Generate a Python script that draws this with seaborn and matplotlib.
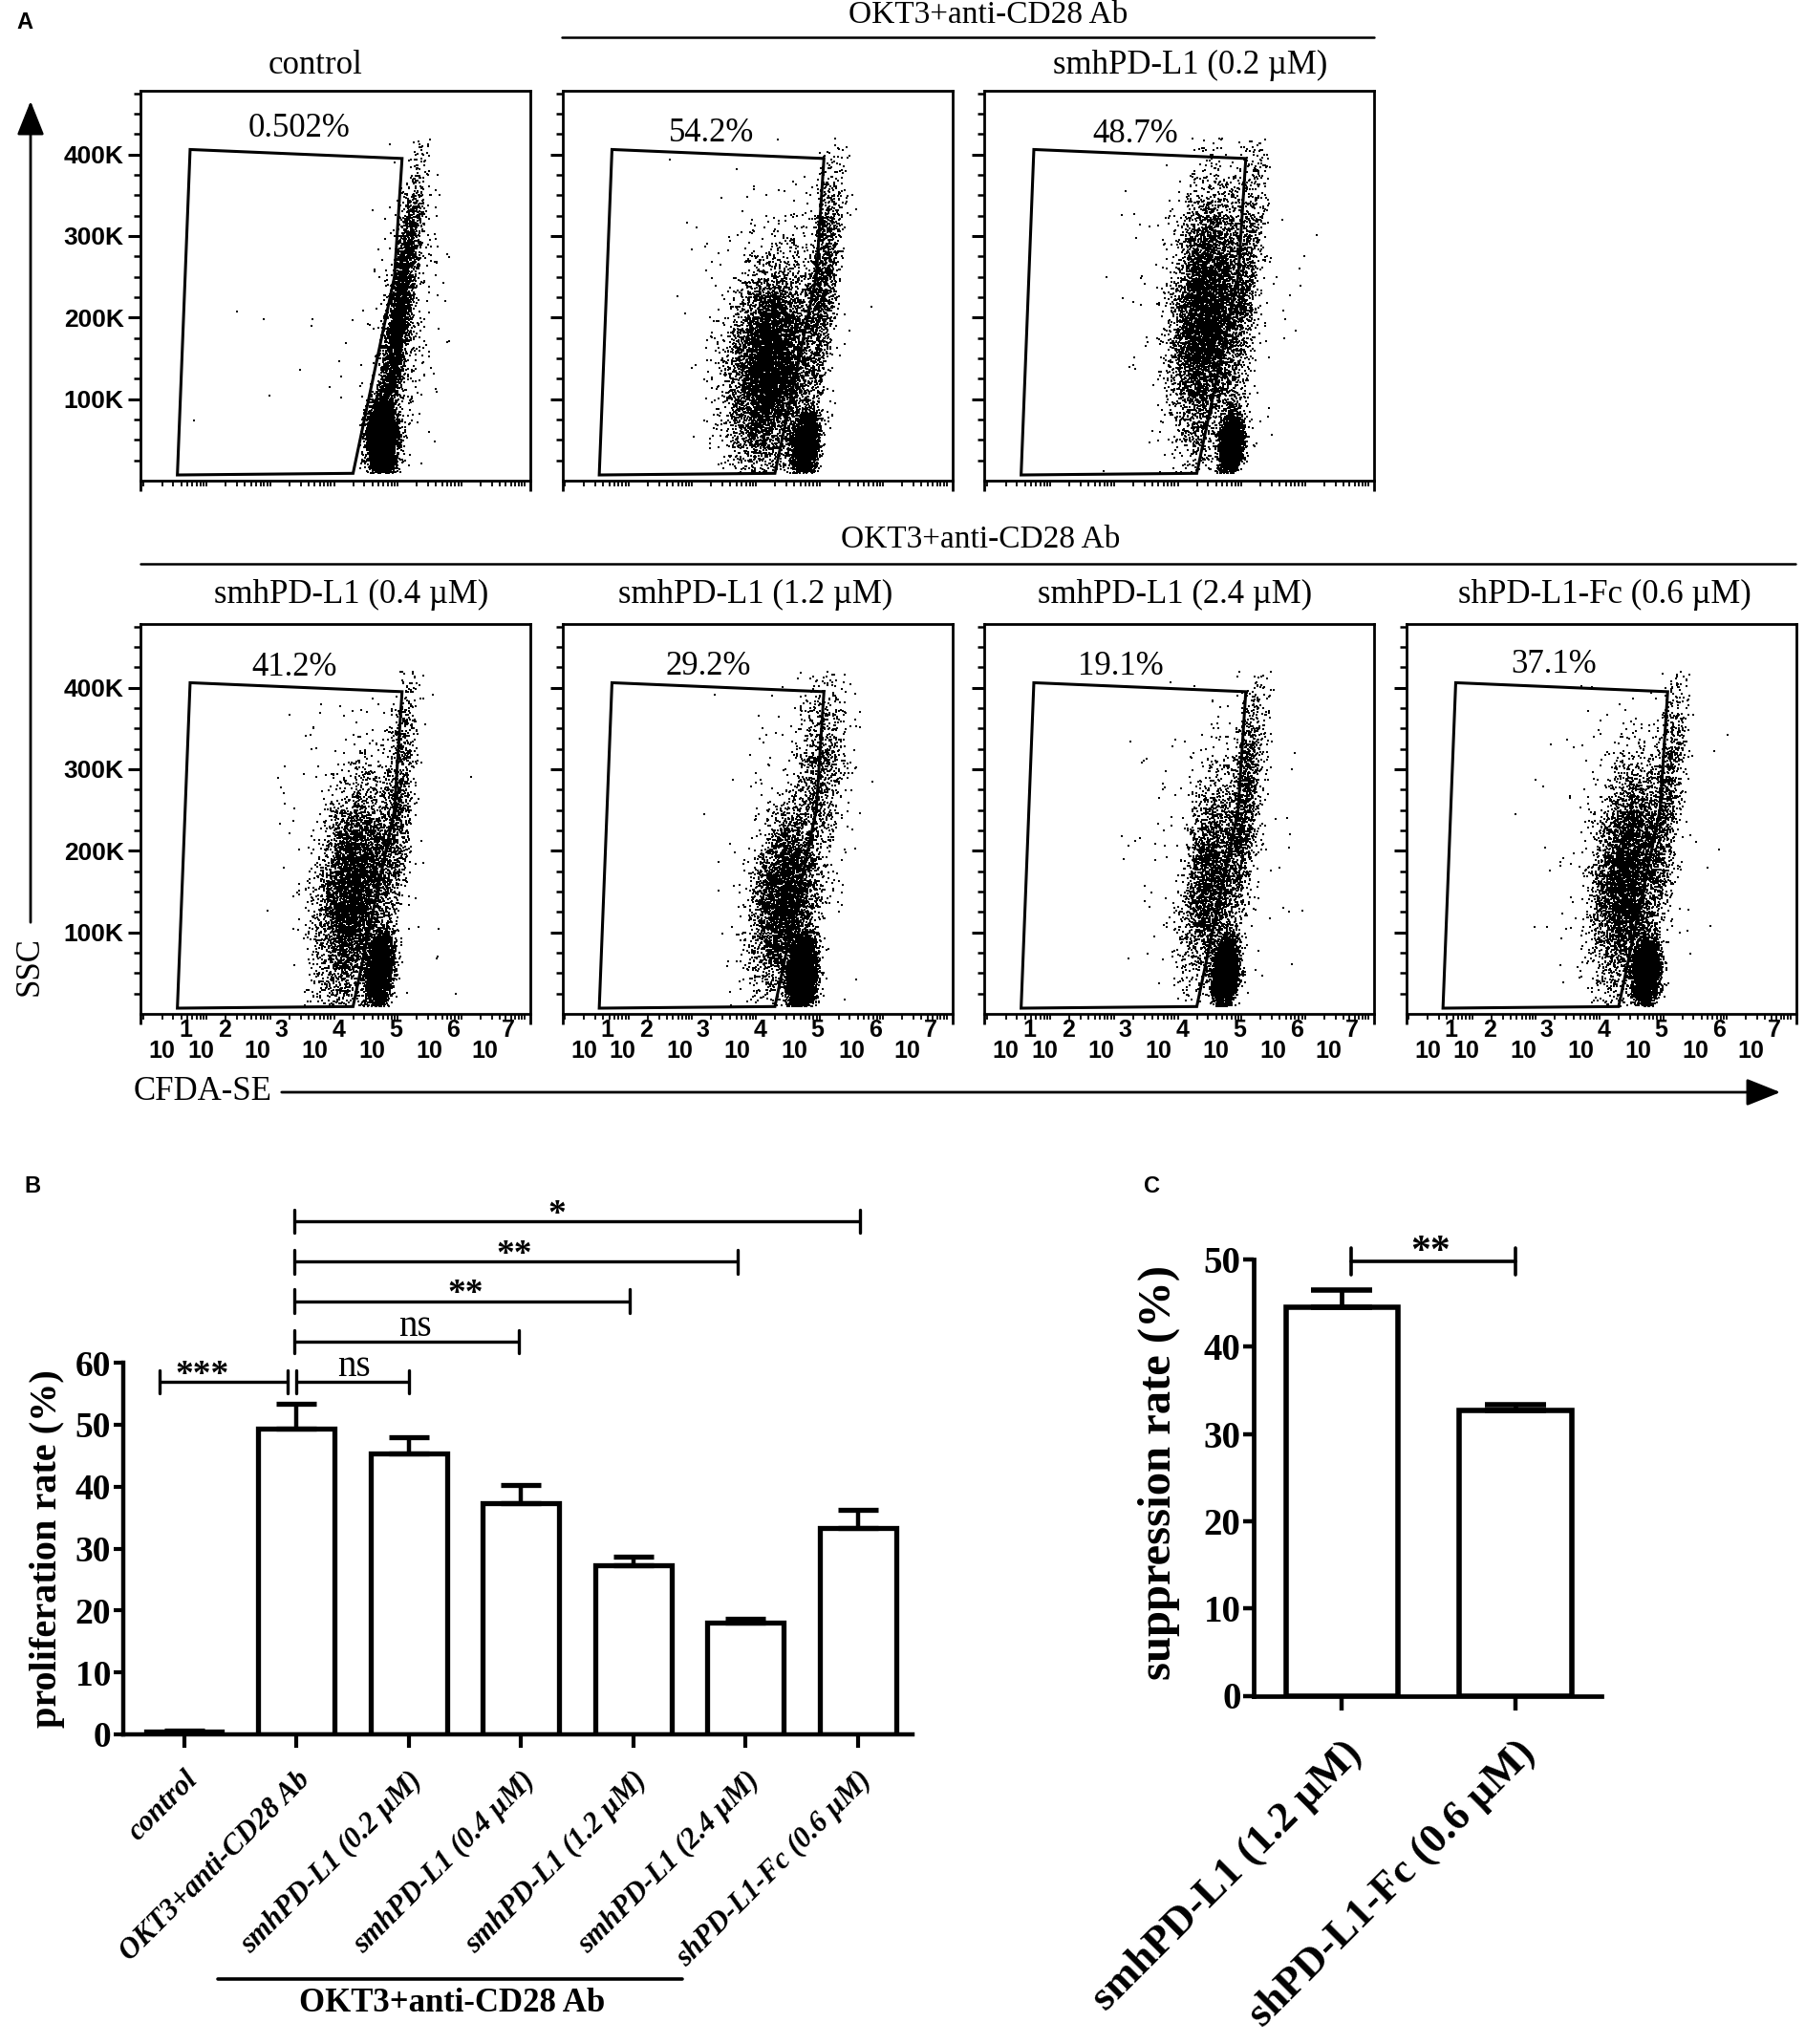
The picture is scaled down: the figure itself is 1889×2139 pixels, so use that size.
import numpy as np
import pandas as pd
import matplotlib
matplotlib.use("Agg")
import matplotlib.pyplot as plt
import seaborn as sns
from matplotlib.patches import Polygon, FancyArrowPatch
from matplotlib.lines import Line2D
from matplotlib.transforms import blended_transform_factory, ScaledTranslation

sns.set_theme(style="white")
SERIF = ["Liberation Serif", "DejaVu Serif"]
SANS = ["Liberation Sans", "DejaVu Sans"]
plt.rcParams["font.family"] = SERIF
for k in ["text.color", "axes.labelcolor", "xtick.color", "ytick.color", "axes.edgecolor"]:
    plt.rcParams[k] = "black"

# ---------------------------------------------------------------- data
flow_titles = ["control", "", "smhPD-L1 (0.2 µM)", "smhPD-L1 (0.4 µM)",
               "smhPD-L1 (1.2 µM)", "smhPD-L1 (2.4 µM)", "shPD-L1-Fc (0.6 µM)"]
flow_pcts = ["0.502%", "54.2%", "48.7%", "41.2%", "29.2%", "19.1%", "37.1%"]
header_text = "OKT3+anti-CD28 Ab"

# gate polygon (log10 CFDA-SE, SSC in K)
gate_log = [1.74, 5.07, 4.95, 4.30, 1.54]
gate_ssc = [406, 395, 250, 9, 7]

ssc_ticks = [100, 200, 300, 400]
ssc_ticklabels = ["100K", "200K", "300K", "400K"]
cfda_decades = [1, 2, 3, 4, 5, 6, 7]

# cell populations:
# panel, events, centre log10, centre SSC (K), spread log10, spread SSC (K), tilt (log10 per K)
pop_panel = [0, 0, 0, 0,   1, 1, 1, 1,   2, 2, 2, 2,   3, 3, 3, 3,   4, 4, 4, 4,   5, 5, 5, 5,   6, 6, 6, 6]
pop_n     = [5000, 3200, 500, 15,   2600, 6500, 1400, 250,   2400, 6200, 1100, 250,
             3200, 5000, 1100, 200,  4000, 3800, 900, 150,   4300, 2400, 1400, 200,
             3500, 4600, 1100, 200]
pop_log   = [4.76, 5.02, 5.10, 3.6,   4.78, 4.22, 5.05, 4.2,   4.85, 4.45, 5.05, 4.4,
             4.72, 4.30, 5.00, 4.3,   4.73, 4.45, 5.00, 4.5,   4.75, 4.50, 5.05, 4.5,
             4.73, 4.42, 5.05, 4.4]
pop_ssc   = [50, 200, 180, 120,   45, 140, 240, 200,   45, 200, 240, 220,
             52, 150, 250, 200,   48, 140, 300, 200,   50, 165, 250, 200,
             50, 170, 260, 200]
pop_slog  = [0.11, 0.09, 0.25, 0.7,   0.10, 0.30, 0.12, 0.6,   0.09, 0.25, 0.12, 0.6,
             0.10, 0.26, 0.12, 0.6,   0.11, 0.24, 0.20, 0.6,   0.09, 0.19, 0.12, 0.6,
             0.10, 0.24, 0.12, 0.6]
pop_sssc  = [24, 80, 100, 90,   20, 62, 75, 110,   20, 75, 85, 110,
             22, 65, 80, 110,   22, 55, 60, 110,   20, 60, 80, 110,
             20, 65, 80, 110]
pop_tilt  = [0.0, 0.0017, 0.001, 0.0,   0.001, 0.0012, 0.0012, 0.0,   0.001, 0.0008, 0.0012, 0.0,
             0.001, 0.0012, 0.0012, 0.0,   0.001, 0.0015, 0.001, 0.0,   0.001, 0.0012, 0.0012, 0.0,
             0.001, 0.0012, 0.0012, 0.0]

# panel B
prolif_labels = ["control", "OKT3+anti-CD28 Ab", "smhPD-L1 (0.2 µM)", "smhPD-L1 (0.4 µM)",
                 "smhPD-L1 (1.2 µM)", "smhPD-L1 (2.4 µM)", "shPD-L1-Fc (0.6 µM)"]
prolif_mean = [0.5, 49.3, 45.4, 37.4, 27.3, 18.0, 33.3]
prolif_err = [0.1, 4.1, 2.5, 2.9, 1.4, 0.6, 3.0]
sigB_x1 = [-0.22, 1.0, 0.98, 0.98, 0.98, 0.98]
sigB_x2 = [0.92, 2.0, 2.98, 3.97, 4.93, 6.02]
sigB_y = [56.9, 56.9, 63.4, 69.9, 76.3, 82.8]
sigB_text = ["***", "ns", "ns", "**", "**", "*"]
sigB_tx = [0.16, 1.51, 2.06, 2.51, 2.94, 3.32]

# panel C
supp_labels = ["smhPD-L1 (1.2 µM)", "shPD-L1-Fc (0.6 µM)"]
supp_mean = [44.5, 32.7]
supp_err = [1.95, 0.7]
sigC_x = [0.05, 1.0]
sigC_y = 49.8
sigC_text = "**"

# ---------------------------------------------------------------- figure
W, H = 1889, 2139
fig = plt.figure(figsize=(W / 100, H / 100), dpi=100)


def fx(x):
    return x / W


def fy(y):
    return 1 - y / H


rng = np.random.default_rng(11)

flow_left = [147, 588.5, 1030, 1471.5]
flow_top = [95, 653]
PW = 408
slots = [(0, 0), (0, 1), (0, 2), (1, 0), (1, 1), (1, 2), (1, 3)]
title_x = [330, None, 1246, 367.5, 791, 1230, 1679]
title_y = [68.5, 622.8]
pct_x = [0.406, 0.383, 0.389, 0.396, 0.374, 0.35, 0.38]
pct_y = [0.902, 0.891, 0.889, 0.888, 0.89, 0.89, 0.897]
cfda_label_pos = [1.30, 1.91, 2.80, 3.70, 4.60, 5.50, 6.37]
XL = (0.96, 7.085)
YL = (0, 478)

minor_x = []
for k in range(0, 8):
    for m in range(1, 10):
        v = k + np.log10(m)
        if XL[0] + 0.02 < v < XL[1] - 0.02:
            minor_x.append(v)

for p, (row, col) in enumerate(slots):
    left = flow_left[col]
    top = flow_top[row]
    ax = fig.add_axes([fx(left), fy(top + PW), PW / W, PW / H])
    xs, ys = [], []
    for i in range(len(pop_panel)):
        if pop_panel[i] != p:
            continue
        y = pop_ssc[i] + pop_sssc[i] * rng.standard_normal(pop_n[i])
        x = pop_log[i] + pop_tilt[i] * (y - pop_ssc[i]) + pop_slog[i] * rng.standard_normal(pop_n[i])
        keep = (y > 9) & (y < 420)
        xs.append(x[keep])
        ys.append(y[keep])
    df = pd.DataFrame({"CFDA": np.concatenate(xs), "SSC": np.concatenate(ys)})
    sns.scatterplot(data=df, x="CFDA", y="SSC", s=3.8, marker="s", color="black",
                    linewidth=0, ax=ax, legend=False, rasterized=True)
    ax.add_patch(Polygon(np.column_stack([gate_log, gate_ssc]), closed=True, fill=False,
                         ec="black", lw=2.2, zorder=5))
    ax.set_xlim(*XL)
    ax.set_ylim(*YL)
    ax.set_xlabel("")
    ax.set_ylabel("")
    for sp in ax.spines.values():
        sp.set_linewidth(2.0)
        sp.set_color("black")
    ax.set_yticks(ssc_ticks)
    ax.set_yticks(np.arange(25, 478, 25), minor=True)
    ax.set_xticks(list(XL))
    ax.set_xticks(minor_x, minor=True)
    ax.tick_params(axis="y", which="major", direction="out", length=9.5, width=2.2, left=True, pad=3)
    ax.tick_params(axis="y", which="minor", direction="out", length=5, width=1.8, left=True)
    ax.tick_params(axis="x", which="major", direction="out", length=8, width=2.0, bottom=True,
                   labelbottom=False)
    ax.tick_params(axis="x", which="minor", direction="out", length=4.5, width=1.3, bottom=True)
    if col == 0:
        ax.set_yticklabels(ssc_ticklabels, fontfamily=SANS, fontweight="bold", fontsize=19)
    else:
        ax.tick_params(axis="y", labelleft=False)
    ax.text(pct_x[p], pct_y[p], flow_pcts[p], transform=ax.transAxes, ha="center", va="center",
            fontsize=25, family=SERIF)
    if flow_titles[p]:
        fig.text(fx(title_x[p]), fy(title_y[row]), flow_titles[p], ha="center", va="center",
                 fontsize=25, family=SERIF)
    if row == 1:
        tr = blended_transform_factory(ax.transData, ax.transAxes)
        for e, bx in zip(cfda_decades, cfda_label_pos):
            ax.text(bx, -0.0956, "10", transform=tr, ha="center", va="center", family=SANS,
                    fontweight="bold", fontsize=18, clip_on=False)
            ax.text(bx + 0.37, -0.041, str(e), transform=tr, ha="center", va="center", family=SANS,
                    fontweight="bold", fontsize=18, clip_on=False)

# headers and their lines
fig.text(fx(1034), fy(15.6), header_text, ha="center", va="center", fontsize=24, family=SERIF)
fig.add_artist(Line2D([fx(588), fx(1438)], [fy(39), fy(39)], lw=1.8, color="black"))
fig.text(fx(1026), fy(564.7), header_text, ha="center", va="center", fontsize=24, family=SERIF)
fig.add_artist(Line2D([fx(147), fx(1879)], [fy(590), fy(590)], lw=1.8, color="black"))

# axis arrows
fig.add_artist(FancyArrowPatch((fx(32), fy(968)), (fx(32), fy(103)), transform=fig.transFigure,
                               arrowstyle="-|>,head_length=0.55,head_width=0.22", mutation_scale=40,
                               lw=2.0, color="black"))
fig.text(fx(31), fy(1011), "SSC", rotation=90, ha="center", va="center", fontsize=25, family=SERIF)
fig.text(fx(140), fy(1142.5), "CFDA-SE", ha="left", va="center", fontsize=25, family=SERIF)
fig.add_artist(FancyArrowPatch((fx(292), fy(1143)), (fx(1866), fy(1143)), transform=fig.transFigure,
                               arrowstyle="-|>,head_length=0.55,head_width=0.22", mutation_scale=40,
                               lw=2.0, color="black"))

# panel letters
fig.text(fx(26), fy(24), "A", ha="center", va="center", fontsize=17, fontweight="bold", family=SANS)
fig.text(fx(34), fy(1241), "B", ha="center", va="center", fontsize=17, fontweight="bold", family=SANS)
fig.text(fx(1205), fy(1242), "C", ha="center", va="center", fontsize=17, fontweight="bold", family=SANS)

# ---------------------------------------------------------------- panel B
axB = fig.add_axes([fx(128.5), fy(1815), (954.7 - 128.5) / W, (1815 - 1426) / H])
dfB = pd.DataFrame({"group": prolif_labels, "rate": prolif_mean})
sns.barplot(data=dfB, x="group", y="rate", order=prolif_labels, color="white", saturation=1,
            edgecolor="black", linewidth=3.8, width=0.678, errorbar=None, ax=axB)
axB.errorbar(np.arange(len(prolif_mean)), prolif_mean,
             yerr=[np.zeros(len(prolif_err)), prolif_err], fmt="none", ecolor="black",
             elinewidth=3.2, capsize=15, capthick=3.8, zorder=4)
axB.set_xlim(-0.546, 6.485)
axB.set_ylim(0, 60)
axB.set_yticks(np.arange(0, 61, 10))
axB.set_yticklabels([str(v) for v in range(0, 61, 10)], fontsize=27, fontweight="bold", family=SERIF)
axB.set_xticks(np.arange(len(prolif_labels)))
axB.set_xticklabels(prolif_labels, rotation=45, ha="right", va="top", rotation_mode="anchor",
                    fontsize=22, fontweight="bold", style="italic", family=SERIF)
for lab in axB.get_xticklabels():
    lab.set_transform(lab.get_transform() + ScaledTranslation(8 / 72, 0, fig.dpi_scale_trans))
sns.despine(ax=axB)
for s in ["left", "bottom"]:
    axB.spines[s].set_linewidth(3.2)
axB.tick_params(axis="y", direction="out", length=7, width=3.0, left=True, pad=2)
axB.tick_params(axis="x", direction="out", length=10, width=3.0, bottom=True, pad=14)
axB.set_xlabel("")
axB.set_ylabel("proliferation rate (%)", fontsize=29, fontweight="bold", family=SERIF)
axB.yaxis.set_label_coords(-0.073, 0.5)
for x1, x2, y, t, tx in zip(sigB_x1, sigB_x2, sigB_y, sigB_text, sigB_tx):
    axB.plot([x1, x2], [y, y], color="black", lw=2.4, clip_on=False, solid_capstyle="butt")
    for xe in (x1, x2):
        axB.plot([xe, xe], [y - 1.9, y + 1.9], color="black", lw=2.4, clip_on=False)
    if t == "ns":
        axB.text(tx, y + 0.9, t, ha="center", va="baseline", fontsize=28, family=SERIF, clip_on=False)
    else:
        axB.text(tx, y - 0.4, t, ha="center", va="baseline", fontsize=27, fontweight="bold",
                 family=SERIF, clip_on=False)

# group line under B labels
fig.add_artist(Line2D([fx(227.8), fx(713.5)], [fy(2070.6), fy(2070.6)], lw=2.6, color="black"))
fig.text(fx(473), fy(2096.7), header_text, ha="center", va="center", fontsize=25,
         fontweight="bold", family=SERIF)

# ---------------------------------------------------------------- panel C
axC = fig.add_axes([fx(1312.4), fy(1774.5), (1675.5 - 1312.4) / W, (1774.5 - 1318) / H])
dfC = pd.DataFrame({"group": supp_labels, "rate": supp_mean})
sns.barplot(data=dfC, x="group", y="rate", order=supp_labels, color="white", saturation=1,
            edgecolor="black", linewidth=4.0, width=0.649, errorbar=None, ax=axC)
axC.errorbar(np.arange(len(supp_mean)), supp_mean, yerr=[np.zeros(len(supp_err)), supp_err],
             fmt="none", ecolor="black", elinewidth=3.4, capsize=23, capthick=4.0, zorder=4)
axC.set_xlim(-0.507, 1.493)
axC.set_ylim(0, 50)
axC.set_yticks(np.arange(0, 51, 10))
axC.set_yticklabels([str(v) for v in range(0, 51, 10)], fontsize=28, fontweight="bold", family=SERIF)
axC.set_xticks(np.arange(len(supp_labels)))
axC.set_xticklabels(supp_labels, rotation=45, ha="right", va="top", rotation_mode="anchor",
                    fontsize=32, fontweight="bold", family=SERIF)
for lab in axC.get_xticklabels():
    lab.set_transform(lab.get_transform() + ScaledTranslation(8 / 72, 0, fig.dpi_scale_trans))
sns.despine(ax=axC)
for s in ["left", "bottom"]:
    axC.spines[s].set_linewidth(3.4)
axC.tick_params(axis="y", direction="out", length=8, width=3.2, left=True, pad=2)
axC.tick_params(axis="x", direction="out", length=10.5, width=3.2, bottom=True, pad=18)
axC.set_xlabel("")
axC.set_ylabel("suppression rate (%)", fontsize=35, fontweight="bold", family=SERIF)
axC.yaxis.set_label_coords(-0.213, 0.511)
axC.plot(sigC_x, [sigC_y, sigC_y], color="black", lw=2.6, clip_on=False)
for xe in sigC_x:
    axC.plot([xe, xe], [sigC_y - 1.5, sigC_y + 1.5], color="black", lw=2.6, clip_on=False)
axC.text(0.51, sigC_y - 0.1, sigC_text, ha="center", va="baseline", fontsize=30, fontweight="bold",
         family=SERIF, clip_on=False)

fig.savefig("out.png", dpi=100, facecolor="white")
